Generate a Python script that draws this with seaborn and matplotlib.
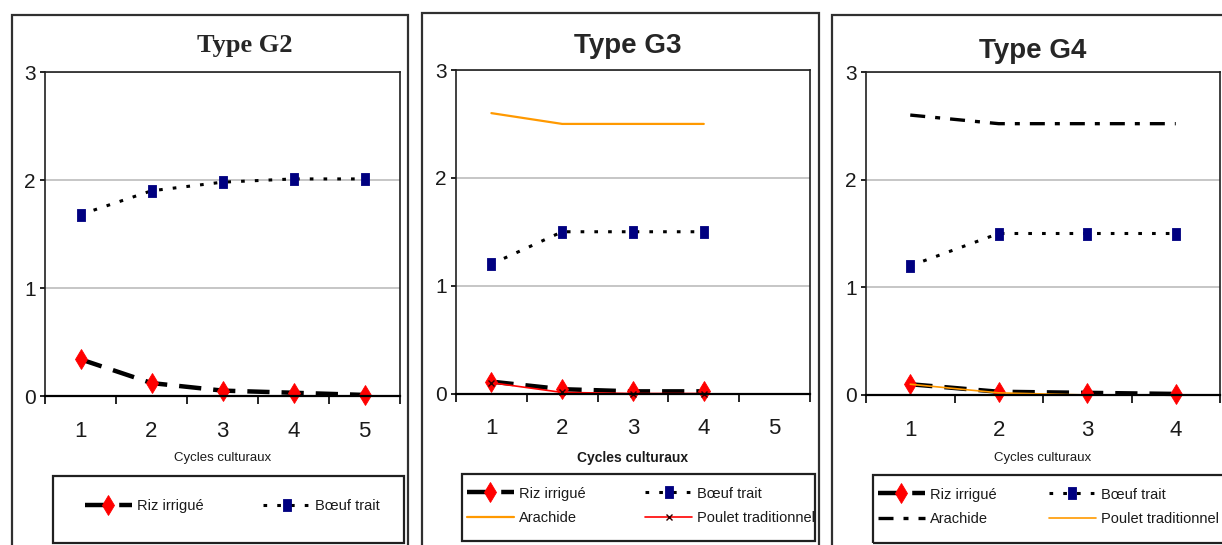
import numpy as np
import matplotlib
matplotlib.use("Agg")
import matplotlib.pyplot as plt
from matplotlib.patches import Rectangle
import seaborn as sns

# ---- data: value per cropping cycle ----
g2_cycles = [1, 2, 3, 4, 5]
g2_riz = [0.34, 0.12, 0.05, 0.03, 0.01]
g2_boeuf = [1.68, 1.90, 1.98, 2.01, 2.01]

g3_cycles = [1, 2, 3, 4]
g3_riz = [0.11, 0.04, 0.02, 0.02]
g3_boeuf = [1.20, 1.50, 1.50, 1.50]
g3_arachide = [2.60, 2.50, 2.50, 2.50]
g3_poulet = [0.10, 0.01, 0.00, 0.00]

g4_cycles = [1, 2, 3, 4]
g4_riz = [0.10, 0.03, 0.02, 0.01]
g4_boeuf = [1.20, 1.50, 1.50, 1.50]
g4_arachide = [2.60, 2.52, 2.52, 2.52]
g4_poulet = [0.10, 0.02, 0.00, 0.00]

y_ticks = [0, 1, 2, 3]
x_label = "Cycles culturaux"
names = ["Riz irrigué", "Bœuf trait", "Arachide", "Poulet traditionnel"]

sns.set_theme(style="white")
plt.rcParams["font.family"] = ["Liberation Sans", "DejaVu Sans"]

W, H = 1222, 545
fig = plt.figure(figsize=(W / 100, H / 100), dpi=100)
fig.patch.set_facecolor("white")


def px_rect(x0, y0, x1, y1):
    return [x0 / W, 1 - y1 / H, (x1 - x0) / W, (y1 - y0) / H]


def fx(x):
    return x / W


def fy(y):
    return 1 - y / H


# tall narrow box marker used for the "Bœuf trait" series
box_marker = [(-0.3, -0.5), (0.3, -0.5), (0.3, 0.5), (-0.3, 0.5), (-0.3, -0.5)]

RED = "#FF0000"
NAVY = "#000080"
ORANGE = "#FF9900"

riz_style = dict(color="black", linewidth=3.2, linestyle=(0, (5, 2.7)),
                 marker="d", markersize=10, markerfacecolor=RED,
                 markeredgecolor=RED, markeredgewidth=0.6)
boeuf_style = dict(color="black", linewidth=2.2, linestyle=(0, (1.2, 3.3)),
                   marker=box_marker, markersize=8.5, markerfacecolor=NAVY,
                   markeredgecolor=NAVY, markeredgewidth=0.6)


def draw(ax, x, y, label, style):
    sns.lineplot(x=x, y=y, ax=ax, legend=False, label=label, clip_on=False,
                 dash_capstyle="butt", **style)


def style_axes(ax, n_cat):
    ax.set_xlim(0.5, n_cat + 0.5)
    ax.set_ylim(0, 3)
    ax.set_xticks(range(1, n_cat + 1))
    ax.set_xticks(np.arange(0.5, n_cat + 1, 1.0), minor=True)
    ax.set_yticks(y_ticks)
    ax.tick_params(axis="x", which="major", length=0, pad=18, labelsize=16,
                   labelcolor="#1a1a1a")
    ax.tick_params(axis="x", which="minor", length=6, width=1.2,
                   direction="out", color="black", bottom=True)
    ax.tick_params(axis="y", which="major", length=3.5, width=1.2,
                   direction="out", pad=3, labelsize=15, labelcolor="#1a1a1a",
                   color="black", left=True)
    ax.grid(axis="y", color="#c6c6c6", linewidth=1.4)
    ax.set_axisbelow(True)
    for s in ax.spines.values():
        s.set_visible(True)
        s.set_color("#202020")
        s.set_linewidth(1.2)
    ax.spines["bottom"].set_linewidth(1.6)
    ax.spines["bottom"].set_color("black")
    ax.set_facecolor("white")


# ---- chart frames ----
for x0, y0, x1 in [(12, 15, 408), (422, 13, 819), (832, 15, 1260)]:
    fig.add_artist(Rectangle((fx(x0), fy(620)), (x1 - x0) / W, (620 - y0) / H,
                             transform=fig.transFigure, fill=False,
                             edgecolor="#303030", linewidth=1.6))

# ---- Type G2 ----
ax1 = fig.add_axes(px_rect(45, 72, 400, 396))
draw(ax1, g2_cycles, g2_riz, names[0], riz_style)
draw(ax1, g2_cycles, g2_boeuf, names[1], boeuf_style)
style_axes(ax1, 5)

# ---- Type G3 ----
ax2 = fig.add_axes(px_rect(456, 70, 810, 393.5))
draw(ax2, g3_cycles, g3_riz, names[0], riz_style)
draw(ax2, g3_cycles, g3_boeuf, names[1], boeuf_style)
draw(ax2, g3_cycles, g3_arachide, names[2],
     dict(color=ORANGE, linewidth=1.6, linestyle="-"))
draw(ax2, g3_cycles, g3_poulet, names[3],
     dict(color=RED, linewidth=1.2, linestyle="-", marker="x", markersize=4,
          markeredgecolor="#300000", markeredgewidth=1.0))
style_axes(ax2, 5)

# ---- Type G4 ----
ax3 = fig.add_axes(px_rect(866, 72, 1220, 395))
draw(ax3, g4_cycles, g4_riz, names[0], riz_style)
draw(ax3, g4_cycles, g4_boeuf, names[1], boeuf_style)
draw(ax3, g4_cycles, g4_arachide, names[2],
     dict(color="black", linewidth=2.4, linestyle=(0, (4.5, 3, 1.5, 3))))
draw(ax3, g4_cycles, g4_poulet, names[3],
     dict(color=ORANGE, linewidth=1.2, linestyle="-"))
style_axes(ax3, 4)

# ---- titles ----
fig.text(fx(245), fy(52), "Type G2", ha="center", va="baseline",
         fontsize=19, fontweight="bold", family=["Liberation Serif", "DejaVu Serif"])
fig.text(fx(628), fy(53), "Type G3", ha="center", va="baseline",
         fontsize=20, fontweight="bold")
fig.text(fx(1033), fy(58), "Type G4", ha="center", va="baseline",
         fontsize=20, fontweight="bold")

# ---- x axis titles ----
for ax, bottom, top, weight, size in [(ax1, 396, 72, "normal", 9.5),
                                      (ax2, 393.5, 70, "bold", 10),
                                      (ax3, 395, 72, "normal", 9.5)]:
    ax.set_xlabel(x_label, fontsize=size, fontweight=weight, color="#1a1a1a")
    ax.xaxis.label.set_verticalalignment("center")
    ax.xaxis.set_label_coords(0.5, (bottom - 458) / (bottom - top))
    ax.set_ylabel("")

# ---- legends ----
for x0, y0, x1, y1 in [(53, 476, 404, 543), (462, 474, 815, 541),
                       (873, 475, 1260, 543)]:
    fig.add_artist(Rectangle((fx(x0), fy(y1)), (x1 - x0) / W, (y1 - y0) / H,
                             transform=fig.transFigure, fill=False,
                             edgecolor="#202020", linewidth=1.6))

leg_kw = dict(frameon=False, ncol=2, fontsize=10.5, handlelength=3.2,
              handletextpad=0.35, labelspacing=0.75,
              borderpad=0, borderaxespad=0, loc="center left", numpoints=1,
              labelcolor="#1a1a1a")
for ax, anchor, colsp in [(ax1, (85, 506), 4.1), (ax2, (467, 506), 4.1),
                          (ax3, (878, 507), 3.6)]:
    handles, labels = ax.get_legend_handles_labels()
    # entries read row by row: pair them up so the columns fill in that order
    order = list(range(0, len(handles), 2)) + list(range(1, len(handles), 2))
    fig.legend([handles[i] for i in order], [labels[i] for i in order],
               bbox_to_anchor=(fx(anchor[0]), fy(anchor[1])),
               bbox_transform=fig.transFigure, columnspacing=colsp, **leg_kw)

fig.savefig("out.png", dpi=100)
